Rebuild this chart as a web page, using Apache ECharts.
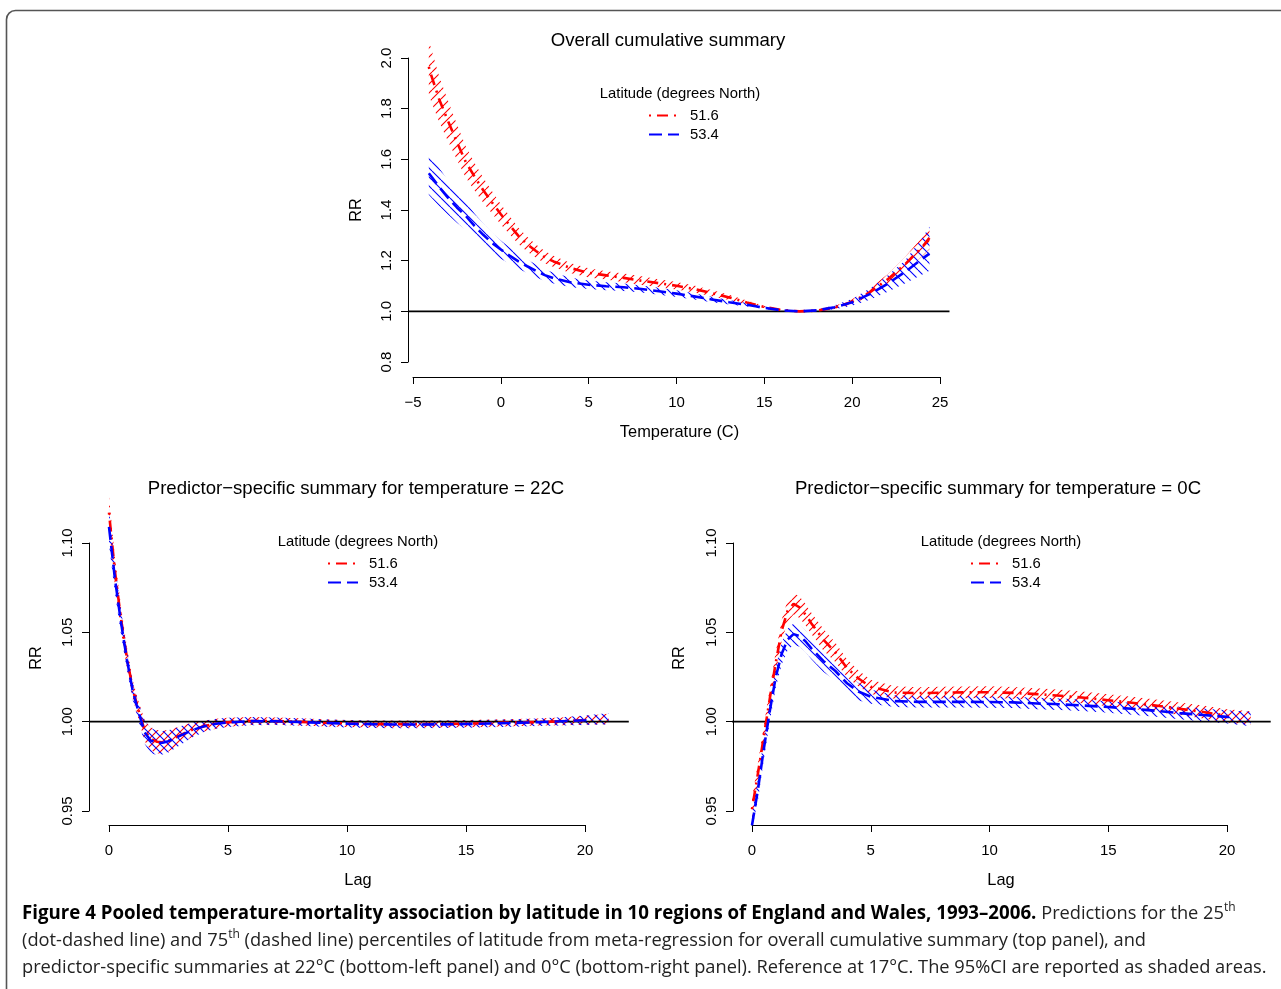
<!DOCTYPE html>
<html><head><meta charset="utf-8">
<script src="https://cdn.jsdelivr.net/npm/echarts@6/dist/echarts.min.js"></script>
<style>html,body{margin:0;padding:0;background:#fff}#c{width:1281px;height:989px}</style>
</head><body><div id="c"></div>
<script>
// ---------------- data ----------------
const temps = [-4.1,-4,-3.5,-3,-2.5,-2,-1.5,-1,-0.5,0,0.5,1,1.5,2,2.5,3,4,5,6,7,8,9,10,11,12,13,14,15,16,17,18,19,20,21,22,23,24,24.4];
const overall516Mid = [1.965,1.94,1.835,1.75,1.668,1.59,1.532,1.478,1.43,1.383,1.34,1.298,1.265,1.238,1.214,1.197,1.17,1.152,1.142,1.132,1.121,1.111,1.101,1.088,1.072,1.055,1.035,1.017,1.005,1.0,1.003,1.015,1.038,1.075,1.125,1.185,1.255,1.29];
const overall516Hi  = [2.06,2.045,1.925,1.83,1.738,1.652,1.587,1.527,1.474,1.423,1.376,1.33,1.294,1.264,1.238,1.219,1.19,1.17,1.158,1.149,1.138,1.127,1.116,1.102,1.084,1.065,1.043,1.022,1.007,1.0,1.006,1.021,1.048,1.09,1.145,1.213,1.293,1.335];
const overall516Lo  = [1.86,1.835,1.745,1.67,1.598,1.528,1.477,1.429,1.386,1.343,1.304,1.266,1.236,1.212,1.19,1.175,1.15,1.134,1.126,1.115,1.104,1.095,1.086,1.074,1.06,1.045,1.027,1.012,1.003,1.0,1.0,1.009,1.028,1.06,1.105,1.157,1.217,1.245];
const overall534Mid = [1.545,1.536,1.49,1.448,1.41,1.377,1.337,1.302,1.27,1.244,1.22,1.197,1.178,1.16,1.143,1.131,1.114,1.105,1.099,1.095,1.088,1.079,1.07,1.059,1.047,1.036,1.026,1.014,1.004,1.0,1.004,1.016,1.036,1.068,1.108,1.155,1.208,1.228];
const overall534Hi  = [1.63,1.62,1.565,1.515,1.47,1.432,1.386,1.347,1.31,1.28,1.252,1.226,1.205,1.185,1.166,1.152,1.133,1.122,1.115,1.11,1.102,1.093,1.083,1.071,1.058,1.045,1.033,1.019,1.006,1.0,1.007,1.024,1.05,1.09,1.14,1.2,1.29,1.335];
const overall534Lo  = [1.46,1.452,1.415,1.381,1.35,1.322,1.288,1.257,1.23,1.208,1.188,1.168,1.151,1.135,1.12,1.11,1.095,1.088,1.083,1.08,1.074,1.065,1.057,1.047,1.036,1.027,1.019,1.009,1.002,1.0,1.001,1.008,1.022,1.046,1.076,1.11,1.145,1.16];

const lags = [0,0.25,0.5,0.75,1,1.25,1.5,1.75,2,2.25,2.5,3,3.5,4,4.5,5,6,7,8,9,10,11,12,13,14,15,16,17,18,19,20,21];
const hot516Mid = [1.117,1.084,1.058,1.036,1.018,1.006,0.995,0.9905,0.9888,0.9885,0.9893,0.9925,0.9955,0.9975,0.9989,0.9997,1.0004,1.0003,0.9999,0.9994,0.999,0.9987,0.9986,0.9986,0.9987,0.9989,0.9992,0.9995,0.9998,1.0002,1.0008,1.0015];
const hot516Hi  = [1.126,1.092,1.065,1.042,1.023,1.011,1.001,0.997,0.9953,0.995,0.9953,0.9975,0.9995,1.0005,1.0017,1.0022,1.0026,1.0023,1.0019,1.0014,1.001,1.0007,1.0006,1.0006,1.0007,1.0009,1.0012,1.0015,1.0018,1.0024,1.0033,1.0045];
const hot516Lo  = [1.108,1.076,1.051,1.03,1.013,1.001,0.989,0.984,0.9823,0.982,0.9833,0.9875,0.9915,0.9945,0.9961,0.9972,0.9982,0.9983,0.9979,0.9974,0.997,0.9967,0.9966,0.9966,0.9967,0.9969,0.9972,0.9975,0.9978,0.998,0.9983,0.9985];
const hot534Mid = [1.109,1.08,1.056,1.035,1.017,1.005,0.994,0.9895,0.9882,0.9882,0.989,0.9922,0.9953,0.9974,0.9988,0.9996,1.0003,1.0002,0.9998,0.9993,0.9989,0.9986,0.9984,0.9984,0.9985,0.9987,0.999,0.9993,0.9997,1.0002,1.0008,1.0016];
const hot534Hi  = [1.119,1.088,1.063,1.041,1.022,1.01,1.0005,0.9965,0.995,0.9948,0.9952,0.9975,0.9995,1.0006,1.0016,1.0022,1.0026,1.0023,1.0019,1.0014,1.001,1.0007,1.0005,1.0005,1.0006,1.0008,1.0011,1.0014,1.0018,1.0025,1.0034,1.0048];
const hot534Lo  = [1.099,1.072,1.049,1.029,1.012,1.0,0.9875,0.9825,0.9814,0.9816,0.9828,0.9869,0.9911,0.9942,0.996,0.997,0.998,0.9981,0.9977,0.9972,0.9968,0.9965,0.9963,0.9963,0.9964,0.9966,0.9969,0.9972,0.9976,0.9979,0.9982,0.9984];

const cold516Mid = [0.951,0.971,0.992,1.013,1.033,1.051,1.062,1.066,1.064,1.06,1.055,1.046,1.039,1.03,1.024,1.0195,1.0163,1.016,1.0162,1.0164,1.0165,1.0161,1.0154,1.0145,1.0134,1.012,1.0106,1.009,1.0072,1.0054,1.0033,1.002];
const cold516Hi  = [0.957,0.977,0.998,1.019,1.039,1.057,1.068,1.072,1.07,1.066,1.061,1.052,1.0445,1.035,1.0285,1.0235,1.0198,1.0193,1.0195,1.0197,1.0198,1.0194,1.0187,1.0178,1.0167,1.0154,1.014,1.0124,1.0107,1.009,1.007,1.0058];
const cold516Lo  = [0.945,0.965,0.986,1.007,1.027,1.045,1.056,1.06,1.058,1.054,1.049,1.04,1.0335,1.025,1.0195,1.0155,1.0128,1.0127,1.0129,1.0131,1.0132,1.0128,1.0121,1.0112,1.0101,1.0086,1.0072,1.0056,1.0037,1.0018,0.9996,0.9982];
const cold534Mid = [0.942,0.962,0.985,1.006,1.025,1.038,1.046,1.049,1.048,1.045,1.041,1.034,1.0285,1.0215,1.0167,1.014,1.0115,1.0111,1.0111,1.0111,1.011,1.0108,1.0102,1.0097,1.009,1.0082,1.0072,1.0061,1.0048,1.0037,1.0027,1.0015];
const cold534Hi  = [0.949,0.968,0.991,1.012,1.031,1.044,1.052,1.055,1.054,1.051,1.047,1.04,1.034,1.027,1.0215,1.018,1.0148,1.0143,1.0143,1.0143,1.0142,1.014,1.0134,1.0129,1.0122,1.0114,1.0105,1.0095,1.0083,1.0073,1.0064,1.0055];
const cold534Lo  = [0.94,0.956,0.979,1.0,1.019,1.032,1.04,1.043,1.042,1.039,1.035,1.028,1.023,1.016,1.0119,1.01,1.0082,1.0079,1.0079,1.0079,1.0078,1.0076,1.007,1.0065,1.0058,1.005,1.0039,1.0027,1.0013,1.0001,0.999,0.9975];

const seriesNames = ['51.6', '53.4'];
const panelTitles = ['Overall cumulative summary',
  'Predictor\u2212specific summary for temperature = 22C',
  'Predictor\u2212specific summary for temperature = 0C'];
const legendTitle = 'Latitude (degrees North)';

// ---------------- helpers ----------------
const FONT = "'Liberation Sans', Arial, Helvetica, sans-serif";
const RED = '#ff0000', BLUE = '#0000ff';

function hatch(color, dir, w, h, lw) {
  const c = document.createElement('canvas');
  c.width = w; c.height = h;
  const g = c.getContext('2d');
  g.strokeStyle = color; g.lineWidth = lw;
  g.beginPath();
  for (let k = -1; k <= 1; k++) {
    if (dir === 'back') { g.moveTo(k * w, 0); g.lineTo(k * w + w, h); }
    else { g.moveTo(k * w, h); g.lineTo(k * w + w, 0); }
  }
  g.stroke();
  return { image: c, repeat: 'repeat' };
}

function band(idx, xs, lo, hi, pattern) {
  return {
    type: 'custom', xAxisIndex: idx, yAxisIndex: idx, clip: false, silent: true, z: 1,
    data: xs.map((x, i) => [x, lo[i], hi[i]]),
    encode: { x: 0, y: [1, 2] },
    renderItem: function (params, api) {
      if (params.dataIndex !== 0) return null;
      const pts = [];
      for (let i = 0; i < xs.length; i++) pts.push(api.coord([xs[i], hi[i]]));
      for (let i = xs.length - 1; i >= 0; i--) pts.push(api.coord([xs[i], lo[i]]));
      return { type: 'polygon', shape: { points: pts }, style: { fill: pattern, stroke: null } };
    }
  };
}

function curve(idx, name, xs, ys, color, dash) {
  return {
    type: 'line', name: name, xAxisIndex: idx, yAxisIndex: idx, clip: false, silent: true, z: 3,
    symbol: 'none', data: xs.map((x, i) => [x, ys[i]]),
    lineStyle: { color: color, width: 2.6, type: dash }, itemStyle: { color: color }
  };
}

// horizontal reference line at RR = 1 across the R-style plot region (data range + 4%)
function refLine(idx, xs) {
  const lo = Math.min.apply(null, xs), hi = Math.max.apply(null, xs);
  const pad = (hi - lo) * 0.04;
  return {
    type: 'custom', xAxisIndex: idx, yAxisIndex: idx, clip: false, silent: true, z: 2,
    data: [[lo - pad, 1], [hi + pad, 1]],
    encode: { x: 0, y: 1 },
    renderItem: function (params, api) {
      if (params.dataIndex !== 0) return null;
      const a = api.coord([lo - pad, 1]), b = api.coord([hi + pad, 1]);
      return { type: 'line', shape: { x1: a[0], y1: a[1], x2: b[0], y2: b[1] },
        style: { stroke: '#000', lineWidth: 1.6 } };
    }
  };
}

const redDash = [2, 6, 11, 6];
const blueDash = [13, 6];

function xAxis(idx, min, max, name, offset, namePad) {
  return {
    type: 'value', gridIndex: idx, min: min, max: max, interval: 5, offset: offset,
    name: name, nameLocation: 'middle', nameGap: 47,
    nameTextStyle: { fontSize: 16.4, color: '#000', fontFamily: FONT, padding: [0, 0, 0, namePad] },
    axisLine: { show: true, onZero: false, lineStyle: { color: '#000', width: 1 } },
    axisTick: { show: true, length: 7, lineStyle: { color: '#000', width: 1 } },
    axisLabel: { fontSize: 15, color: '#000', fontFamily: FONT, margin: 18,
      formatter: v => v < 0 ? '\u2212' + (-v) : String(v) },
    splitLine: { show: false }
  };
}
function yAxis(idx, min, max, interval, digits, offset, nameGap, namePad) {
  return {
    type: 'value', gridIndex: idx, min: min, max: max, interval: interval, offset: offset,
    name: 'RR', nameLocation: 'middle', nameRotate: 90, nameGap: nameGap,
    nameTextStyle: { fontSize: 16.4, color: '#000', fontFamily: FONT, padding: [0, 0, 0, namePad] },
    axisLine: { show: true, onZero: false, lineStyle: { color: '#000', width: 1 } },
    axisTick: { show: true, length: 7, lineStyle: { color: '#000', width: 1 } },
    axisLabel: { fontSize: 15, color: '#000', fontFamily: FONT, rotate: 90, margin: 14,
      formatter: v => v.toFixed(digits) },
    splitLine: { show: false }
  };
}
function legend(left, top) {
  return {
    data: seriesNames, orient: 'vertical', left: left, top: top, padding: 0,
    itemWidth: 30, itemHeight: 14, itemGap: 4, selectedMode: false,
    itemStyle: { opacity: 0, borderWidth: 0 },
    textStyle: { fontSize: 14.8, color: '#000', fontFamily: FONT, padding: [0, 0, 0, 6] }
  };
}
function txt(x, y, text, size) {
  return { type: 'text', x: x, y: y, silent: true,
    style: { text: text, fill: '#000', font: size + 'px ' + FONT, textAlign: 'center', textVerticalAlign: 'middle' } };
}

const pTopRed = hatch(RED, 'fwd', 9, 9, 1.1);
const pTopBlue = hatch(BLUE, 'back', 9, 9, 1.1);
const pBotRed = hatch(RED, 'fwd', 8, 8, 1.1);
const pBotBlue = hatch(BLUE, 'back', 8, 8, 1.1);

const CAP = "'Open Sans', 'DejaVu Sans Condensed', sans-serif";
const capRich = {
  b: { fontFamily: CAP, fontWeight: 'bold', fontSize: 18.7, fill: '#000', lineHeight: 24 },
  r: { fontFamily: CAP, fontSize: 18.25, fill: '#222', lineHeight: 24 },
  s: { fontFamily: CAP, fontSize: 12, fill: '#222', lineHeight: 14, verticalAlign: 'top' }
};
function capLine(y, text) {
  return { type: 'text', x: 22, y: y, silent: true,
    style: { text: text, rich: capRich, textAlign: 'left', textVerticalAlign: 'middle' } };
}

const option = {
  animation: false,
  backgroundColor: '#fff',
  grid: [
    { left: 413, top: 58, width: 527, height: 304 },
    { left: 109, top: 543, width: 476, height: 268 },
    { left: 752, top: 543, width: 475, height: 268 }
  ],
  xAxis: [
    xAxis(0, -5, 25, 'Temperature (C)', 15, 6),
    xAxis(1, 0, 20, 'Lag', 14, 22),
    xAxis(2, 0, 20, 'Lag', 14, 23)
  ],
  yAxis: [
    yAxis(0, 0.8, 2.0, 0.2, 1, 5, 44, 0),
    yAxis(1, 0.95, 1.10, 0.05, 2, 20, 45, 38),
    yAxis(2, 0.95, 1.10, 0.05, 2, 19, 46, 38)
  ],
  legend: [legend(648, 108), legend(327, 556), legend(970, 556)],
  graphic: [
    { type: 'rect', silent: true, shape: { x: 6.5, y: 10.5, width: 1320, height: 1020, r: 9 },
      style: { fill: 'none', stroke: '#555', lineWidth: 1.6 } },
    txt(668, 41, panelTitles[0], 18.6),
    txt(356, 489, panelTitles[1], 18.6),
    txt(998, 489, panelTitles[2], 18.6),
    txt(680, 94, legendTitle, 14.8),
    txt(358, 542, legendTitle, 14.8),
    txt(1001, 542, legendTitle, 14.8),
    capLine(914, '{b|Figure 4 Pooled temperature-mortality association by latitude in 10 regions of England and Wales, 1993\u20132006.}{r| Predictions for the 25}{s|th}'),
    capLine(941, '{r|(dot-dashed line) and 75}{s|th}{r| (dashed line) percentiles of latitude from meta-regression for overall cumulative summary (top panel), and}'),
    capLine(968, '{r|predictor-specific summaries at 22\u00b0C (bottom-left panel) and 0\u00b0C (bottom-right panel). Reference at 17\u00b0C. The 95%CI are reported as shaded areas.}')
  ],
  series: [
    refLine(0, temps),
    band(0, temps, overall516Lo, overall516Hi, pTopRed),
    band(0, temps, overall534Lo, overall534Hi, pTopBlue),
    curve(0, seriesNames[0], temps, overall516Mid, RED, redDash),
    curve(0, seriesNames[1], temps, overall534Mid, BLUE, blueDash),

    refLine(1, lags),
    band(1, lags, hot516Lo, hot516Hi, pBotRed),
    band(1, lags, hot534Lo, hot534Hi, pBotBlue),
    curve(1, seriesNames[0], lags, hot516Mid, RED, redDash),
    curve(1, seriesNames[1], lags, hot534Mid, BLUE, blueDash),

    refLine(2, lags),
    band(2, lags, cold516Lo, cold516Hi, pBotRed),
    band(2, lags, cold534Lo, cold534Hi, pBotBlue),
    curve(2, seriesNames[0], lags, cold516Mid, RED, redDash),
    curve(2, seriesNames[1], lags, cold534Mid, BLUE, blueDash)
  ]
};
const chart = echarts.init(document.getElementById('c'), null, { renderer: 'canvas' });
chart.setOption(option);
</script></body></html>
